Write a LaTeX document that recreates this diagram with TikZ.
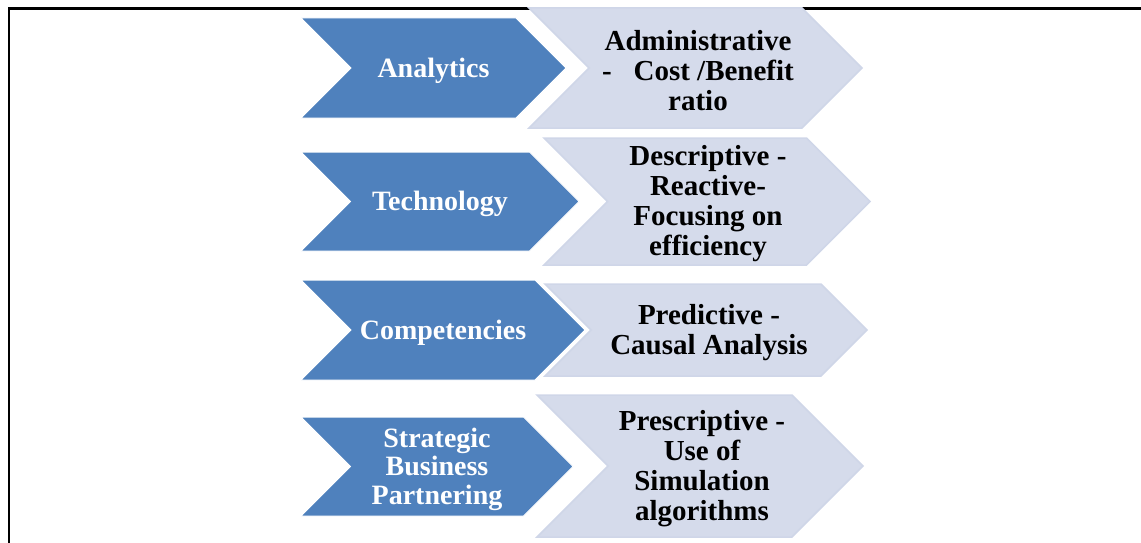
\documentclass[tikz,border=0pt]{standalone}
\usepackage{fontspec}
\setmainfont{Liberation Serif}
\definecolor{darkblue}{RGB}{79,129,189}
\definecolor{lightfill}{RGB}{213,219,235}
\definecolor{lightedge}{RGB}{207,214,232}
\tikzset{
  darkchev/.style={fill=darkblue, draw=white, line width=1pt},
  lightchev/.style={fill=lightfill, draw=lightedge, line width=1.5pt},
  darklabel/.style={text=white, align=center, inner sep=0pt, font=\fontsize{28}{28.5}\selectfont\bfseries},
  lightlabel/.style={text=black, align=center, inner sep=0pt, font=\fontsize{29}{30}\selectfont\bfseries},
  frameline/.style={draw=black, line width=2.5pt}
}
\begin{document}
\begin{tikzpicture}[x=1pt,y=-1pt]
\useasboundingbox (0,0) rectangle (1141,543);
% frame lines
\coordinate (f1) at (9,543);
\coordinate (f2) at (9,8.5);
\coordinate (f3) at (1141,8.5);
\draw[frameline] (f1) -- (f2) -- (f3);
% light chevrons
\path[lightchev] (529,8) -- (802,8) -- (862,68) -- (802,128) -- (529,128) -- (589,68) -- cycle;
\path[lightchev] (544,138) -- (806.5,138) -- (870,201.5) -- (806.5,265) -- (544,265) -- (607.5,201.5) -- cycle;
\path[lightchev] (545,284) -- (821,284) -- (867,330) -- (821,376) -- (545,376) -- (591,330) -- cycle;
\path[lightchev] (537,395) -- (792,395) -- (863,466) -- (792,537) -- (537,537) -- (608,466) -- cycle;
% dark chevrons
\path[darkchev] (301,18) -- (516,18) -- (566,68) -- (516,118) -- (301,118) -- (351,68) -- cycle;
\path[darkchev] (301,152) -- (529.5,152) -- (579,201.5) -- (529.5,251) -- (301,251) -- (350.5,201.5) -- cycle;
\path[darkchev] (301,280) -- (535,280) -- (585,330) -- (535,380) -- (301,380) -- (351,330) -- cycle;
\path[darkchev] (301,417) -- (523.5,417) -- (573,466.5) -- (523.5,516) -- (301,516) -- (350.5,466.5) -- cycle;
% dark labels
\node[darklabel] (a1) at (433.5,70.5) {Analytics};
\node[darklabel] (a2) at (440,204) {Technology};
\node[darklabel] (a3) at (443,332.5) {Competencies};
\node[darklabel] (a4) at (437,469) {Strategic\\Business\\Partnering};
% light labels
\node[lightlabel] (b1) at (698,70.5) {Administrative\\-\ \ \ Cost /Benefit\\ratio};
\node[lightlabel] (b2) at (708,204) {Descriptive -\\Reactive-\\Focusing on\\efficiency};
\node[lightlabel] (b3) at (709,332.5) {Predictive -\\Causal Analysis};
\node[lightlabel] (b4) at (702,468.5) {Prescriptive -\\Use of\\Simulation\\algorithms};
\end{tikzpicture}
\end{document}
